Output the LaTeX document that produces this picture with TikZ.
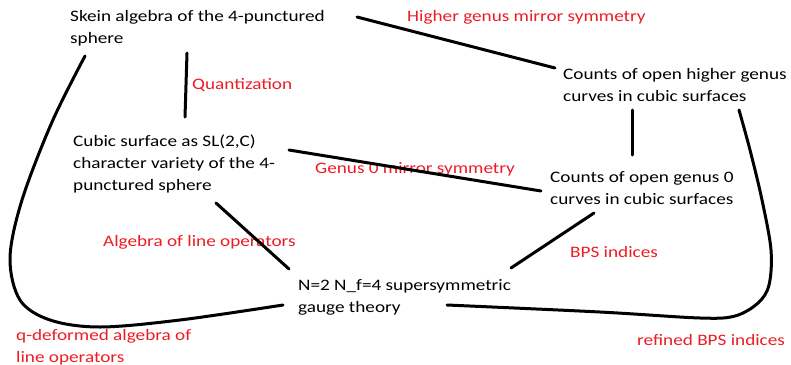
\documentclass[tikz,border=0pt]{standalone}
\usepackage{fontspec}
\setmainfont{Carlito}[FakeStretch=1.2]
\definecolor{pred}{RGB}{237,28,36}
\newcommand{\ml}[1]{\begin{tabular}[t]{@{}l@{}}#1\end{tabular}}
\begin{document}
\begin{tikzpicture}[x=1pt,y=-1pt,
  txt/.style={anchor=base west,inner sep=0pt,font=\fontsize{16}{22}\selectfont},
  lbl/.style={txt,text=pred},
  conn/.style={line width=3pt,line cap=round,line join=round}]
\useasboundingbox (0,0) rectangle (791,364);
% nodes
\node[txt] (skein) at (70,21) {\ml{Skein algebra of the 4-punctured\\sphere}};
\node[txt] (higher) at (563,79) {\ml{Counts of open higher genus\\curves in cubic surfaces}};
\node[txt] (cubic) at (73,146) {\ml{Cubic surface as SL(2,C)\\character variety of the 4-\\punctured sphere}};
\node[txt] (genus0) at (550,182) {\ml{Counts of open genus 0\\curves in cubic surfaces}};
\node[txt] (gauge) at (298,290) {\ml{N=2 N\_f=4 supersymmetric\\gauge theory}};
% labels
\node[lbl] (lhigher) at (407,21) {Higher genus mirror symmetry};
\node[lbl] (lquant) at (192,89) {Quantization};
\node[lbl] (lg0) at (315,173) {Genus 0 mirror symmetry};
\node[lbl] (lalg) at (103,246) {Algebra of line operators};
\node[lbl] (lbps) at (570,257) {BPS indices};
\node[lbl] (lqdef) at (16,340) {\ml{q-deformed algebra of\\line operators}};
\node[lbl] (lref) at (637,345) {refined BPS indices};
% connector end points
\coordinate (skein-r) at (357,17);
\coordinate (higher-l) at (555,68);
\coordinate (skein-b) at (187,53);
\coordinate (cubic-t) at (185,117);
\coordinate (higher-b) at (632,110);
\coordinate (genus0-t) at (632,155);
\coordinate (cubic-r) at (289,150);
\coordinate (genus0-l) at (541,191);
\coordinate (cubic-b) at (216,203);
\coordinate (gauge-t) at (289,269);
\coordinate (gauge-r) at (511,268);
\coordinate (genus0-b) at (594,213);
\coordinate (skein-bl) at (85,56);
\coordinate (gauge-l) at (283,305);
\coordinate (higher-br) at (739,110);
\coordinate (gauge-br) at (447,305);
% connectors
\draw[conn] (skein-r) -- (higher-l);
\draw[conn] (skein-b) -- (cubic-t);
\draw[conn] (higher-b) -- (genus0-t);
\draw[conn] (cubic-r) -- (genus0-l);
\draw[conn] (cubic-b) -- (gauge-t);
\draw[conn] (gauge-r) -- (genus0-b);
\draw[conn] plot[smooth,tension=0.55] coordinates {(skein-bl) (52,122) (22,200) (10,258) (20,300) (50,320) (100,327) (180,320) (gauge-l)};
\draw[conn] plot[smooth,tension=0.55] coordinates {(higher-br) (750,150) (762,200) (771,250) (769,285) (758,303) (735,316) (700,318) (600,312) (gauge-br)};
\end{tikzpicture}
\end{document}
